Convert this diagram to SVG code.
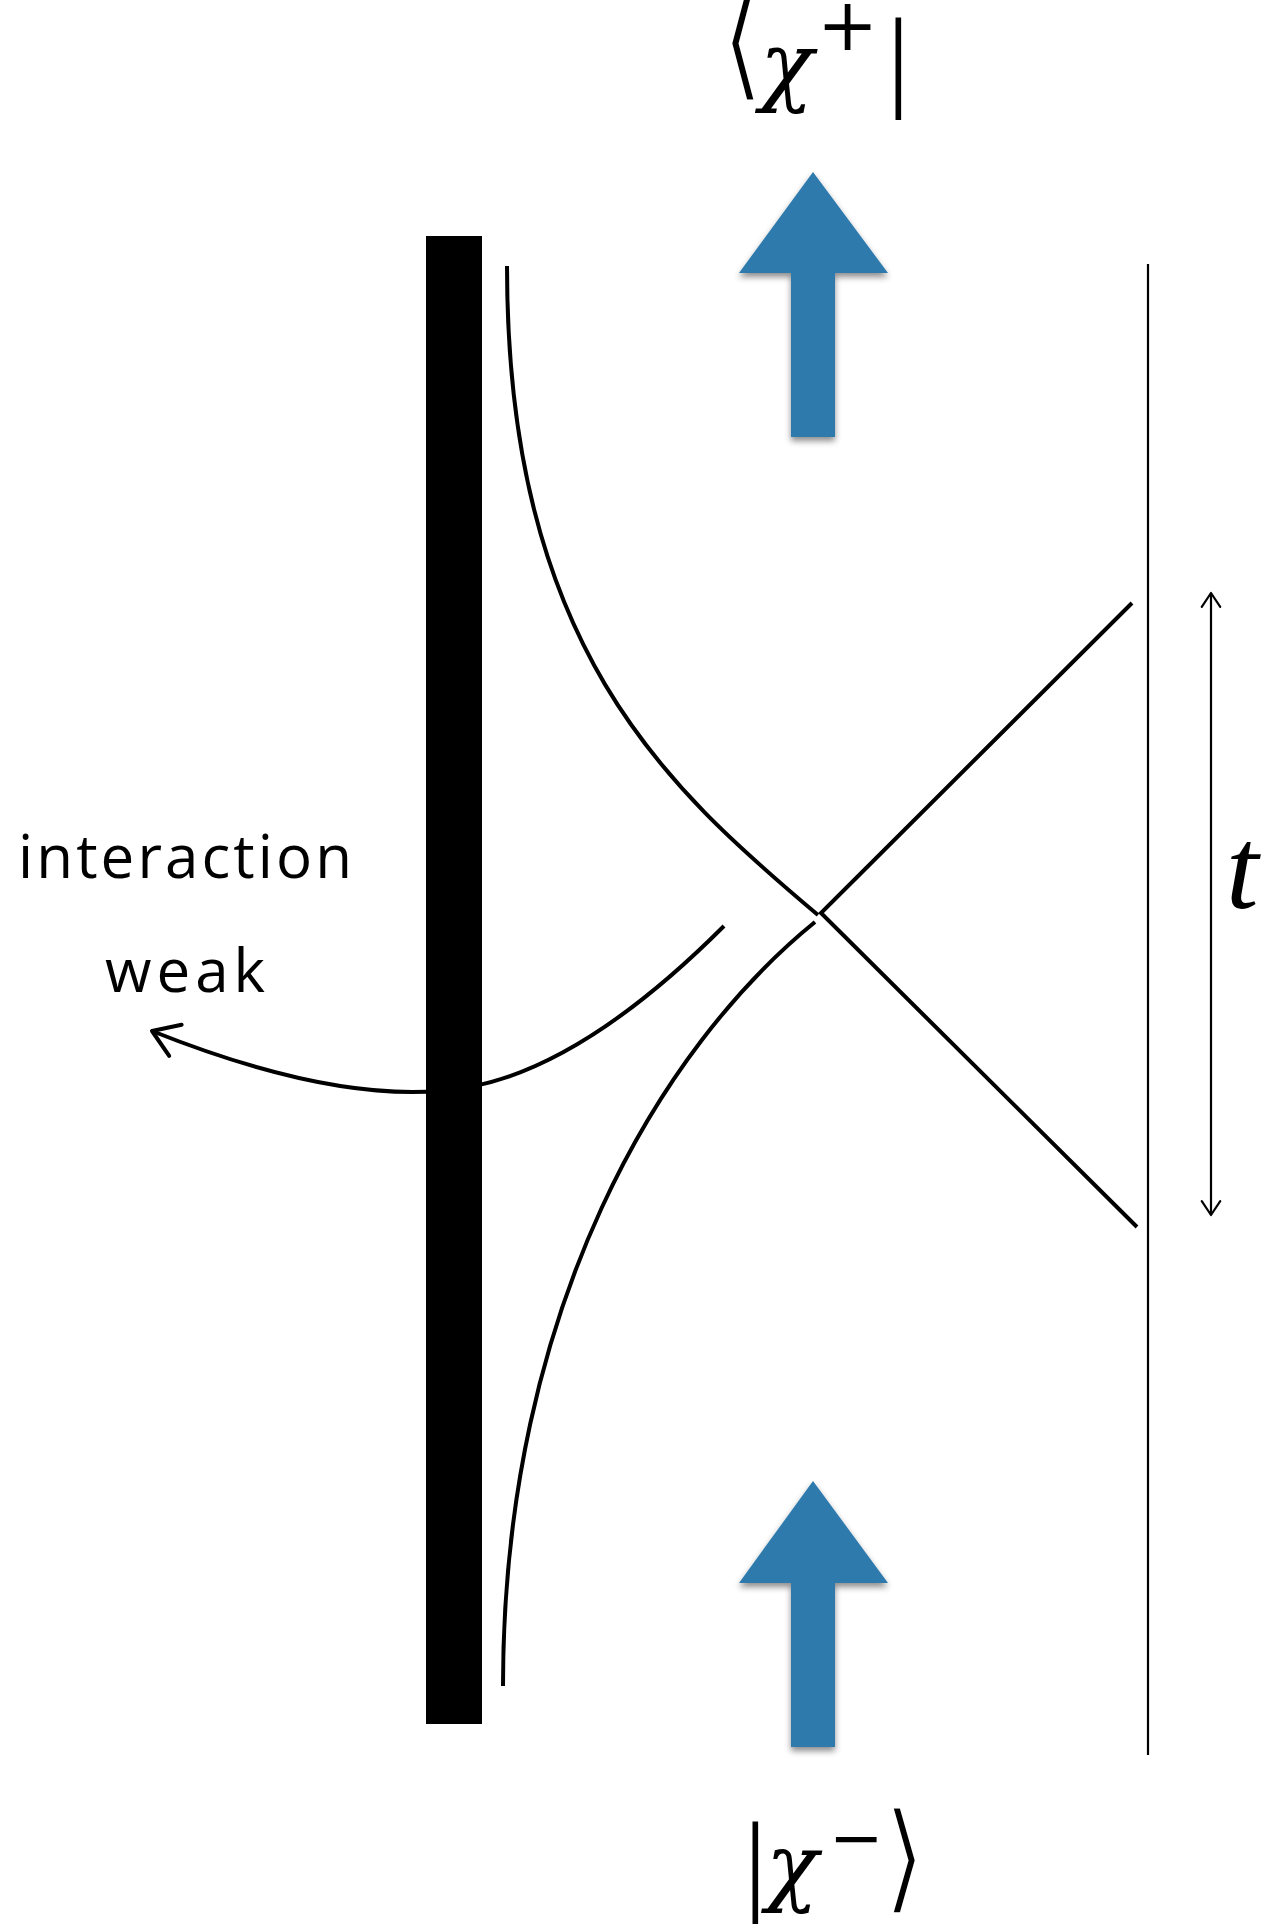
<svg xmlns="http://www.w3.org/2000/svg" width="1264" height="1924" viewBox="0 0 1264 1924">
<style>
.ser{font-family:"Liberation Serif","DejaVu Serif",serif;fill:#000}
.dser{font-family:"DejaVu Serif","Liberation Serif",serif;fill:#000}
.sym{font-family:"DejaVu Sans","DejaVu Serif",sans-serif;font-size:96px;fill:#000;stroke:#fff;stroke-width:3px;vector-effect:non-scaling-stroke}
.hand{font-family:"Open Sans","Noto Sans",sans-serif;font-size:60px;fill:#000}
.curve{fill:none;stroke:#000;stroke-width:4}
.thin{fill:none;stroke:#000;stroke-width:2.2}
.blue{fill:#2e7aad;filter:url(#sh)}
</style>
<defs>
<filter id="sh" x="-20%" y="-20%" width="140%" height="150%">
<feDropShadow dx="0" dy="4" stdDeviation="3" flood-color="#000" flood-opacity="0.45"/>
</filter>
<marker id="open" viewBox="-8 -6 10 12" markerWidth="10" markerHeight="12" refX="0" refY="0" orient="auto-start-reverse" markerUnits="strokeWidth" overflow="visible">
<path d="M-6.3,-4.2 L0,0 L-6.3,4.2" fill="none" stroke="#000" stroke-width="1" stroke-linecap="round" stroke-linejoin="round"/>
</marker>
</defs>
<rect width="1264" height="1924" fill="#fff"/>

<g id="wall"><rect x="426" y="236" width="56" height="1488" fill="#000"/></g>
<g id="boundary"><line x1="1148" y1="264" x2="1148" y2="1755" class="thin"/></g>

<g id="connectors">
<path class="curve" d="M507,266 C507,646 665,786 818,915"/>
<path class="curve" d="M503,1686 C503,1306 662,1046 815,922"/>
<path class="curve" d="M1132,603 L821,913 L1137,1227" stroke-linejoin="miter"/>
<path class="curve" d="M724,926 C650,1000 560,1070 470,1087 C400,1100 300,1090 152,1031" marker-end="url(#open)"/>
<line class="thin" x1="1211" y1="593" x2="1211" y2="1215" marker-start="url(#open)" marker-end="url(#open)"/>
</g>

<g id="arrow-out"><polygon class="blue" points="813,172 888,273 835,273 835,437 791,437 791,273 739,273"/></g>
<g id="arrow-in"><polygon class="blue" points="813,1481 888,1583 835,1583 835,1747 791,1747 791,1583 739,1583"/></g>

<g id="label-out">
<text class="sym" transform="translate(721,84) scale(1.15,1.35)" x="0" y="0">⟨</text>
<text><tspan class="dser" x="760" y="95" font-size="88" font-style="italic">χ</tspan><tspan class="dser" x="817" y="50" font-size="73">+</tspan><tspan class="ser" x="887" y="96" font-size="113">|</tspan></text>
</g>
<g id="label-in">
<text><tspan class="ser" x="744" y="1900" font-size="113">|</tspan><tspan class="dser" x="766" y="1895" font-size="86" font-style="italic">χ</tspan><tspan class="dser" x="829" y="1860" font-size="65">−</tspan></text>
<text class="sym" transform="translate(883,1898) scale(1.15,1.25)" x="0" y="0">⟩</text>
</g>
<g id="label-t"><text class="ser" x="1226" y="908" font-size="117" font-style="italic">t</text></g>
<g id="label-weak">
<text class="hand" x="18" y="878" textLength="334" lengthAdjust="spacing">interaction</text>
<text class="hand" x="105" y="992" textLength="160" lengthAdjust="spacing">weak</text>
</g>
</svg>
